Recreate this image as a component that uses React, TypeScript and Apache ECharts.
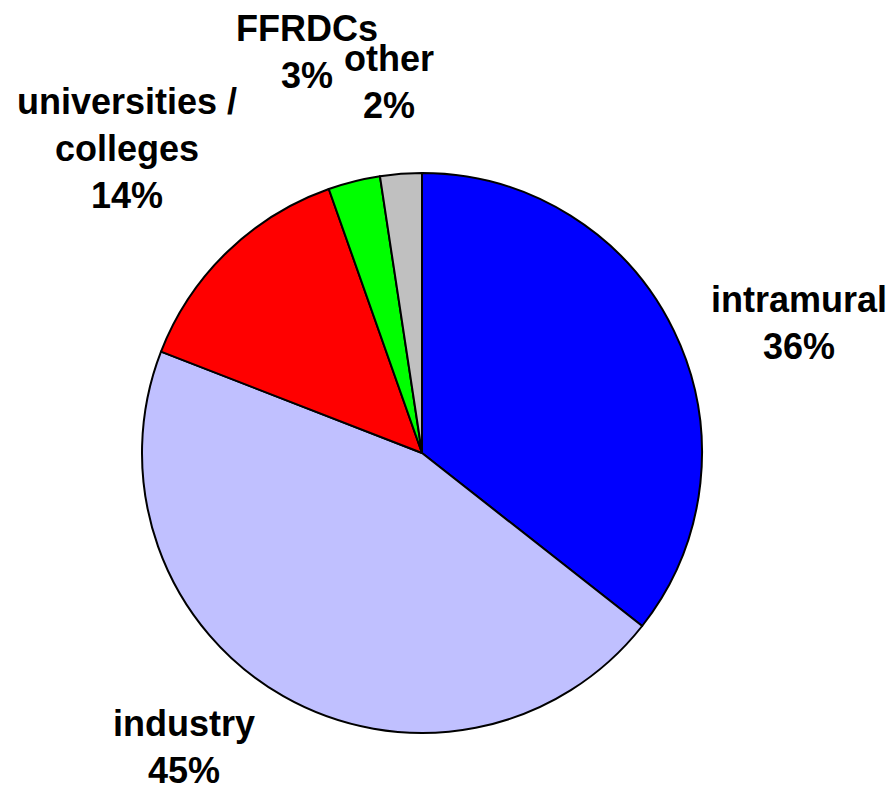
import React, { useEffect, useRef } from "react";
import * as echarts from "echarts";

const categories = ["intramural", "industry", "universities /\ncolleges", "FFRDCs", "other"];
const shares = [35.6, 45.3, 13.7, 3.0, 2.4];
const colors = ["#0000FF", "#C0C0FF", "#FF0000", "#00FF00", "#C0C0C0"];

const labelSpots: [number, number][] = [
  [799, 323],
  [184, 747],
  [127, 148],
  [307, 52],
  [389, 82],
];

export default function App() {
  const ref = useRef<HTMLDivElement>(null);
  useEffect(() => {
    document.body.style.margin = "0";
    const chart = echarts.init(ref.current!, null, { renderer: "svg" });
    chart.setOption({
      animation: false,
      backgroundColor: "#ffffff",
      series: [
        {
          type: "pie",
          center: [422, 453],
          radius: 280,
          startAngle: 90,
          clockwise: true,
          percentPrecision: 0,
          avoidLabelOverlap: false,
          data: categories.map((c, i) => ({
            name: c,
            value: shares[i],
            itemStyle: { color: colors[i] },
          })),
          itemStyle: { borderColor: "#000000", borderWidth: 2 },
          label: {
            show: true,
            formatter: "{b}\n{d}%",
            fontFamily: "Liberation Sans, Arial, sans-serif",
            fontWeight: "bold",
            fontSize: 36,
            lineHeight: 47,
            color: "#000000",
            align: "center",
          },
          labelLine: { show: false },
          labelLayout: (params: any) => {
            const p = labelSpots[params.dataIndex];
            return { x: p[0], y: p[1], align: "center", verticalAlign: "middle" };
          },
          emphasis: { disabled: true },
        },
      ],
    });
    return () => chart.dispose();
  }, []);
  return <div ref={ref} style={{ width: 894, height: 786 }} />;
}
